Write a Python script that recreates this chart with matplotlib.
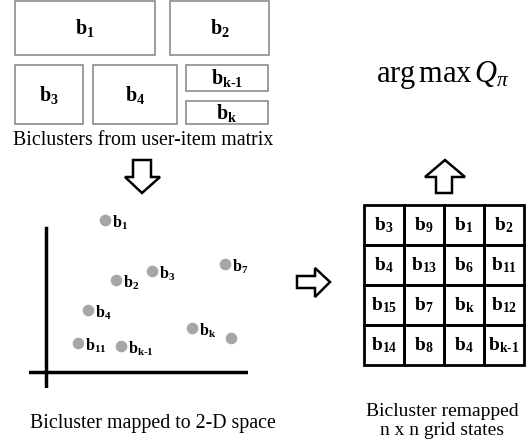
import matplotlib.pyplot as plt
from matplotlib.patches import Rectangle, Polygon

plt.rcParams['font.family'] = 'Liberation Serif'
plt.rcParams['mathtext.fontset'] = 'custom'
plt.rcParams['mathtext.rm'] = 'Liberation Serif'
plt.rcParams['mathtext.bf'] = 'Liberation Serif:bold'
plt.rcParams['mathtext.it'] = 'Liberation Serif:italic'

# Biclusters (top block)
block_names = ['1', '2', '3', '4', 'k-1', 'k']

# Biclusters mapped to 2-D space
point_names = ['1', '7', '3', '2', '4', 'k', '', '11', 'k-1']
point_x = [59, 179, 106, 70, 42, 146, 185, 32, 75]
point_y = [152, 108, 101, 92, 62, 44, 34, 29, 26]

# Remapped grid states
grid_names = [['3', '9', '1', '2'],
              ['4', '13', '6', '11'],
              ['15', '7', 'k', '12'],
              ['14', '8', '4', 'k-1']]


def blabel(s):
    s = s.replace('-', r'\text{-}')
    return r'$\mathbf{b_{' + s + '}}$'


fig = plt.figure(figsize=(5.32, 4.44), dpi=100)
ax = fig.add_axes([0, 0, 1, 1])
ax.set_xlim(0, 532)
ax.set_ylim(444, 0)
ax.axis('off')

# top rectangles (x0, y0, x1, y1)
boxes = [(15, 1, 155, 55), (170, 1, 269, 55), (15, 65, 83, 124),
         (93, 65, 177, 124), (186, 65, 268, 91), (186, 101, 268, 124)]
for (x0, y0, x1, y1), name in zip(boxes, block_names):
    ax.add_patch(Rectangle((x0, y0), x1 - x0, y1 - y0, fill=False,
                           edgecolor='#8c8c8c', lw=1.2))
    ax.text((x0 + x1) / 2, (y0 + y1) / 2, blabel(name), fontsize=14.5,
            ha='center', va='center')
ax.text(143, 140, 'Biclusters from user-item matrix', fontsize=14.3,
        ha='center', va='center')

# hollow arrows
arrow_kw = dict(closed=True, facecolor='white', edgecolor='black', lw=1.8)
ax.add_patch(Polygon([(133, 160), (151, 160), (151, 177), (160, 177),
                      (142, 193), (125, 177), (133, 177)], **arrow_kw))
ax.add_patch(Polygon([(436, 193), (452, 193), (452, 177), (465, 177),
                      (445, 160), (425, 177), (436, 177)], **arrow_kw))
ax.add_patch(Polygon([(297, 276), (315, 276), (315, 268), (330, 282),
                      (315, 297), (315, 288), (297, 288)], **arrow_kw))

ax.text(443, 75, r'arg$\,$max$\,\mathit{Q_{\pi}}$', fontsize=22,
        ha='center', va='center')

# scatter panel
sax = fig.add_axes([29 / 532, 1 - 388 / 444, (248 - 29) / 532, (388 - 205) / 444])
sax.set_xlim(-17, 202)
sax.set_ylim(-16, 167)
sax.axis('off')
sax.axhline(0, xmin=0, xmax=1, color='black', lw=2.5)
sax.axvline(0, ymin=0, ymax=(167 - 7) / 183, color='black', lw=2.5)
sax.scatter(point_x, point_y, s=70, color='#a6a6a6', zorder=3, lw=0)
for px, py, name in zip(point_x, point_y, point_names):
    if name:
        sax.annotate(blabel(name), (px, py), xytext=(5, -2),
                     textcoords='offset points', fontsize=11.5,
                     ha='left', va='center')
ax.text(153, 423, 'Bicluster mapped to 2-D space', fontsize=14.3,
        ha='center', va='center')

# grid panel
gx0, gy0, cell = 364, 205, 40
for r, row in enumerate(grid_names):
    for c, name in enumerate(row):
        ax.add_patch(Rectangle((gx0 + c * cell, gy0 + r * cell), cell, cell,
                               fill=False, edgecolor='black', lw=2))
        ax.text(gx0 + c * cell + cell / 2, gy0 + r * cell + cell / 2,
                blabel(name), fontsize=14, ha='center', va='center')
ax.text(442, 416, 'Bicluster remapped', fontsize=14, ha='center', va='baseline')
ax.text(442, 435, 'n x n grid states', fontsize=14, ha='center', va='baseline')

fig.savefig('out.png', dpi=100)
